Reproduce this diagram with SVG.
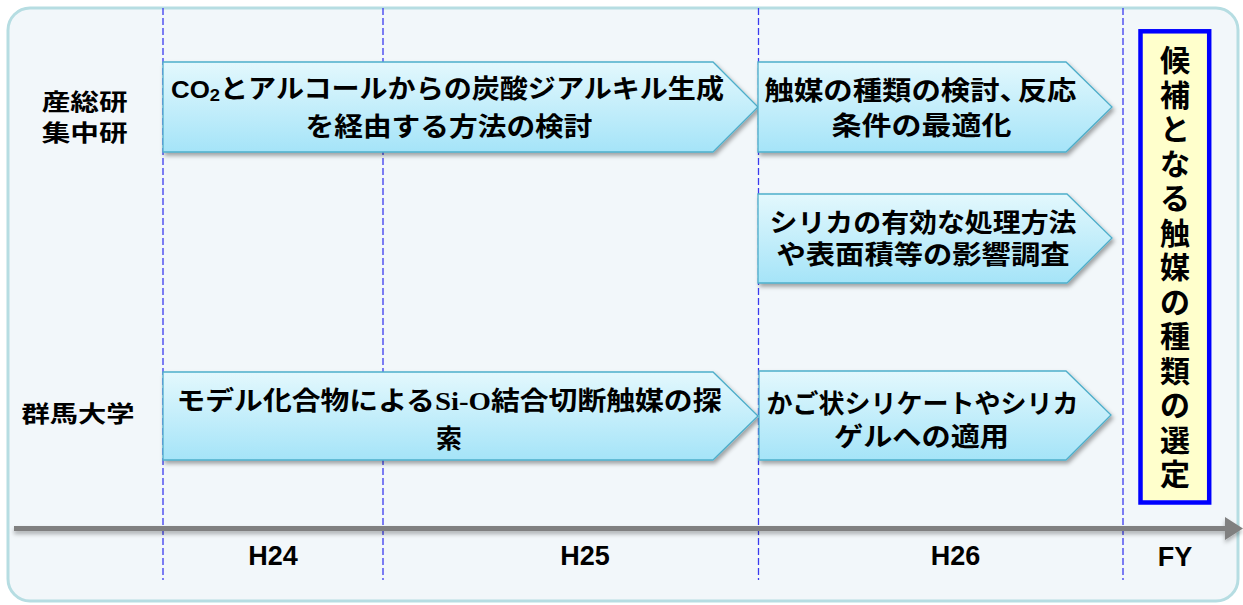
<svg xmlns="http://www.w3.org/2000/svg" width="1243" height="605" viewBox="0 0 1243 605">
<style>
.t{font-family:"Liberation Sans","Noto Sans CJK JP",sans-serif;font-weight:bold;fill:#000;}
.at{font-size:26px;text-anchor:middle;}
.lbl{font-size:23px;text-anchor:middle;}
.yr{font-size:27px;text-anchor:middle;font-family:"Liberation Sans",sans-serif;font-weight:bold;}
.vt{font-size:30px;text-anchor:middle;}
.grid{stroke:#3a3af0;stroke-width:1.3;stroke-dasharray:7 3;fill:none;}
.arw{fill:url(#ag);stroke:#4eaeca;stroke-width:1.3;filter:url(#sh);}
.serif{font-family:"Liberation Serif","Noto Sans CJK JP",serif;}
</style>
<defs>
<linearGradient id="ag" x1="0" y1="0" x2="0" y2="1">
<stop offset="0" stop-color="#e3f8fd"/>
<stop offset="1" stop-color="#a5e4f8"/>
</linearGradient>
<filter id="sh" x="-5%" y="-10%" width="115%" height="135%">
<feDropShadow dx="2" dy="3" stdDeviation="2" flood-color="#000" flood-opacity="0.35"/>
</filter>
<filter id="ash" x="-2%" y="-100%" width="104%" height="400%">
<feDropShadow dx="0" dy="3" stdDeviation="2" flood-color="#000" flood-opacity="0.3"/>
</filter>
</defs>
<rect x="0" y="0" width="1243" height="605" fill="#ffffff"/>
<rect id="frame" x="8" y="8" width="1230" height="593" rx="22" fill="#f2f7fa" stroke="#b6dde2" stroke-width="3"/>
<g id="grid">
<line class="grid" x1="163" y1="8" x2="163" y2="580"/>
<line class="grid" x1="383" y1="8" x2="383" y2="580"/>
<line class="grid" x1="758.5" y1="8" x2="758.5" y2="580"/>
<line class="grid" x1="1123" y1="8" x2="1123" y2="580"/>
</g>
<g id="row-labels">
<text class="t lbl" x="84.7" y="110" textLength="86" lengthAdjust="spacingAndGlyphs">産総研</text>
<text class="t lbl" x="84.7" y="140.5" textLength="86" lengthAdjust="spacingAndGlyphs">集中研</text>
<text class="t lbl" x="78" y="422" textLength="113" lengthAdjust="spacingAndGlyphs">群馬大学</text>
</g>
<g id="node-co2">
<polygon class="arw" points="163,62 713,62 758,107 713,152 163,152"/>
<text class="t at" x="447.5" y="97.5" textLength="553" lengthAdjust="spacingAndGlyphs"><tspan font-size="24">CO</tspan><tspan font-size="17" dy="3">2</tspan><tspan dy="-3">とアルコールからの炭酸ジアルキル生成</tspan></text>
<text class="t at" x="449" y="135.5" textLength="287" lengthAdjust="spacingAndGlyphs">を経由する方法の検討</text>
</g>
<g id="node-catalyst-type">
<polygon class="arw" points="758,62 1066,62 1112,107 1066,152 758,152"/>
<text class="t at" x="920.5" y="100" textLength="312" lengthAdjust="spacingAndGlyphs">触媒の種類の検討、<tspan dx="-10">反応</tspan></text>
<text class="t at" x="921.5" y="134.5" textLength="180" lengthAdjust="spacingAndGlyphs">条件の最適化</text>
</g>
<g id="node-silica">
<polygon class="arw" points="758,194 1067,194 1112,238 1067,283 758,283"/>
<text class="t at" x="923" y="231.5" textLength="307" lengthAdjust="spacingAndGlyphs">シリカの有効な処理方法</text>
<text class="t at" x="923" y="263.5" textLength="293" lengthAdjust="spacingAndGlyphs">や表面積等の影響調査</text>
</g>
<g id="node-model">
<polygon class="arw" points="163,372 713,372 758,416 713,460 163,460"/>
<text class="t at" x="449" y="410" textLength="545" lengthAdjust="spacingAndGlyphs">モデル化合物による<tspan class="serif">Si-O</tspan>結合切断触媒の探</text>
<text class="t at" x="449" y="447.5">索</text>
</g>
<g id="node-cage">
<polygon class="arw" points="759,371 1066,371 1111,415 1066,460 759,460"/>
<text class="t at" x="922.5" y="412.5" textLength="312" lengthAdjust="spacingAndGlyphs">かご状シリケートやシリカ</text>
<text class="t at" x="921.5" y="446" textLength="175" lengthAdjust="spacingAndGlyphs">ゲルへの適用</text>
</g>
<g id="node-selection">
<rect x="1140.5" y="31.3" width="68.7" height="471.2" fill="#ffffcc" stroke="#0000ff" stroke-width="4.5"/>
<text class="t vt" x="1175" y="71.4">候</text>
<text class="t vt" x="1175" y="105.9">補</text>
<text class="t vt" x="1175" y="140.4">と</text>
<text class="t vt" x="1175" y="174.9">な</text>
<text class="t vt" x="1175" y="209.4">る</text>
<text class="t vt" x="1175" y="243.9">触</text>
<text class="t vt" x="1175" y="278.4">媒</text>
<text class="t vt" x="1175" y="312.9">の</text>
<text class="t vt" x="1175" y="347.4">種</text>
<text class="t vt" x="1175" y="381.9">類</text>
<text class="t vt" x="1175" y="416.4">の</text>
<text class="t vt" x="1175" y="450.9">選</text>
<text class="t vt" x="1175" y="485.4">定</text>
</g>
<g id="connectors">
<g id="timeline-axis" filter="url(#ash)">
<line x1="14" y1="528.5" x2="1228" y2="528.5" stroke="#808080" stroke-width="5"/>
<polygon points="1225,517 1243,528.5 1225,540" fill="#808080"/>
</g>
</g>
<g id="year-labels">
<text class="yr" x="273" y="565">H24</text>
<text class="yr" x="585" y="565">H25</text>
<text class="yr" x="955.5" y="565">H26</text>
<text class="yr" x="1175" y="566" font-size="24">FY</text>
</g>
</svg>
